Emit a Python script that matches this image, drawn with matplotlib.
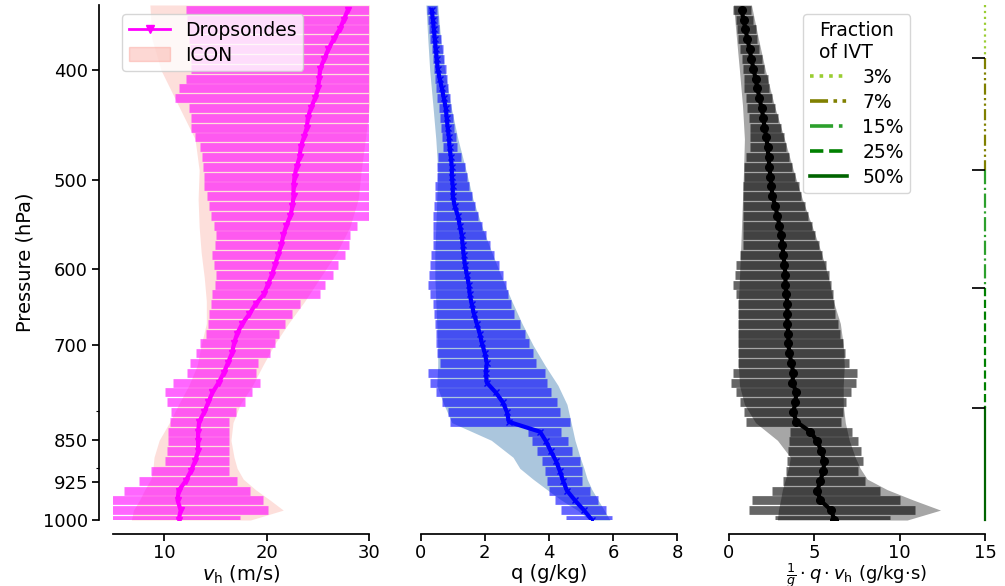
import matplotlib
matplotlib.use('Agg')
import matplotlib.pyplot as plt
from matplotlib.ticker import NullFormatter
from matplotlib.patches import Patch

# -------------------------------------------------------------------------
# Data
# -------------------------------------------------------------------------
# dropsonde levels (hPa), bottom to top
pres = [1000.0, 980.2, 960.8, 941.8, 923.1, 904.8, 886.9, 869.4, 852.1, 835.3,
        818.7, 802.5, 786.6, 771.1, 755.8, 740.8, 726.1, 711.8, 697.7, 683.9,
        670.3, 657.0, 644.0, 631.3, 618.8, 606.5, 594.5, 582.7, 571.2, 559.9,
        548.8, 537.9, 527.3, 516.9, 506.6, 496.6, 486.8, 477.2, 467.7, 458.5,
        449.3, 440.4, 431.7, 423.2, 414.8, 406.6, 398.6, 390.7, 383.0, 375.4,
        367.9, 360.6, 353.5]

# horizontal wind speed (m/s)
vh_mean = [11.4, 11.6, 11.3, 11.4, 12.1, 12.6, 13.0, 13.3, 13.3, 13.3,
           13.4, 13.9, 14.3, 14.7, 15.3, 15.8, 16.2, 16.6, 16.8, 17.1,
           17.6, 18.3, 18.9, 19.7, 20.1, 20.5, 20.8, 21.1, 21.4, 21.6,
           21.9, 22.3, 22.5, 22.6, 22.6, 22.7, 22.9, 23.2, 23.3, 23.6,
           23.9, 24.0, 24.3, 24.7, 25.0, 25.1, 25.2, 25.6, 26.0, 26.5,
           27.1, 27.5, 27.9]
vh_lo = [4.7, 4.7, 4.9, 6.1, 7.5, 8.7, 10.1, 10.3, 10.4, 10.4,
         10.6, 10.7, 10.3, 10.1, 10.9, 12.2, 12.5, 13.1, 13.5, 14.1,
         14.3, 14.4, 14.6, 14.7, 14.9, 15.0, 14.8, 14.7, 14.9, 15.0,
         14.8, 14.6, 14.4, 14.2, 13.9, 13.9, 13.8, 13.7, 13.5, 13.0,
         12.6, 12.6, 12.4, 11.0, 11.4, 12.1, 12.6, 12.6, 12.5, 12.4,
         12.3, 12.2, 12.1]
vh_hi = [17.4, 20.1, 19.6, 18.4, 17.1, 16.3, 16.3, 16.3, 16.3, 16.3,
         16.3, 17.0, 17.9, 18.6, 19.3, 18.9, 19.1, 20.3, 20.8, 21.2,
         21.8, 22.5, 23.2, 25.2, 25.7, 26.4, 26.9, 27.6, 28.0, 28.1,
         28.8, 30.0, 30.4, 30.6, 30.8, 31.0, 31.0, 31.0, 31.0, 31.5,
         31.5, 31.5, 31.5, 32.0, 32.0, 32.0, 32.5, 32.5, 32.5, 33.0,
         33.0, 33.0, 33.0]

# specific humidity (g/kg)
q_mean = [5.34, 5.09, 4.81, 4.56, 4.44, 4.34, 4.22, 4.06, 3.91, 3.72,
          2.75, 2.69, 2.56, 2.34, 2.06, 2.03, 2.06, 2.00, 1.91, 1.84,
          1.75, 1.66, 1.59, 1.53, 1.50, 1.44, 1.38, 1.34, 1.31, 1.28,
          1.22, 1.16, 1.06, 1.00, 1.00, 0.97, 0.97, 0.94, 0.90, 0.88,
          0.84, 0.81, 0.78, 0.72, 0.66, 0.59, 0.53, 0.50, 0.47, 0.44,
          0.41, 0.38, 0.34]
q_lo = [4.53, 4.38, 4.19, 4.00, 3.94, 3.88, 3.78, 3.63, 3.47, 3.34,
        0.90, 0.84, 0.66, 0.47, 0.28, 0.22, 0.59, 0.50, 0.47, 0.47,
        0.44, 0.41, 0.38, 0.28, 0.22, 0.25, 0.28, 0.31, 0.38, 0.38,
        0.38, 0.38, 0.41, 0.44, 0.44, 0.50, 0.50, 0.53, 0.69, 0.66,
        0.62, 0.59, 0.56, 0.50, 0.47, 0.44, 0.41, 0.38, 0.34, 0.28,
        0.25, 0.22, 0.19]
q_hi = [5.97, 5.78, 5.53, 5.28, 5.03, 5.03, 4.97, 4.72, 4.59, 4.38,
        4.66, 4.34, 4.25, 4.06, 3.94, 3.88, 3.59, 3.50, 3.38, 3.25,
        3.09, 2.91, 2.81, 2.72, 2.66, 2.56, 2.44, 2.28, 2.16, 2.03,
        1.91, 1.78, 1.69, 1.59, 1.50, 1.44, 1.38, 1.25, 1.12, 1.09,
        1.03, 1.00, 0.94, 0.90, 0.84, 0.81, 0.78, 0.72, 0.69, 0.62,
        0.56, 0.53, 0.50]

# moisture flux 1/g * q * vh (g/kg s)
f_mean = [6.19, 6.01, 5.37, 5.20, 5.37, 5.55, 5.60, 5.43, 5.20, 4.79,
          3.97, 3.79, 3.91, 3.97, 3.74, 3.79, 3.68, 3.56, 3.50, 3.50,
          3.44, 3.44, 3.44, 3.39, 3.33, 3.33, 3.27, 3.21, 3.15, 3.09,
          2.98, 2.86, 2.74, 2.57, 2.51, 2.45, 2.39, 2.34, 2.28, 2.22,
          2.10, 2.04, 1.93, 1.81, 1.69, 1.58, 1.46, 1.34, 1.23, 1.11,
          0.99, 0.88, 0.76]
f_lo = [2.74, 1.17, 1.40, 2.57, 3.21, 3.39, 3.44, 3.50, 3.56, 3.62,
        1.05, 0.88, 0.70, 0.41, 0.12, 0.29, 0.53, 0.58, 0.58, 0.58,
        0.58, 0.53, 0.53, 0.41, 0.29, 0.35, 0.41, 0.70, 0.82, 0.82,
        0.82, 0.82, 0.82, 0.82, 0.82, 0.88, 0.93, 1.05, 1.28, 1.23,
        1.23, 1.17, 1.11, 1.05, 0.93, 0.88, 0.82, 0.76, 0.70, 0.58,
        0.47, 0.41, 0.29]
f_hi = [9.46, 10.90, 10.04, 8.87, 8.00, 7.59, 7.88, 7.76, 7.59, 7.24,
        6.60, 6.71, 6.89, 7.18, 7.47, 7.53, 7.06, 6.83, 6.71, 6.54,
        6.42, 6.25, 6.19, 6.13, 6.01, 5.90, 5.72, 5.49, 5.31, 5.08,
        4.90, 4.67, 4.50, 4.26, 4.14, 3.91, 3.74, 3.56, 3.39, 3.27,
        3.09, 2.92, 2.74, 2.57, 2.39, 2.28, 2.10, 1.98, 1.81, 1.69,
        1.58, 1.46, 1.34]

# ICON spread (hPa levels, bottom to top)
icon_pres = [1000, 980, 960, 940, 920, 900, 880, 850, 820, 790, 760, 730, 700,
             670, 640, 610, 580, 550, 520, 490, 460, 430, 400, 375, 350]
icon_vh_lo = [6.8, 7.0, 7.6, 8.1, 8.7, 8.9, 9.0, 9.5, 10.5, 11.4, 12.4, 13.2, 13.6,
              14.1, 14.1, 13.9, 13.6, 13.4, 13.3, 13.4, 13.0, 11.4, 9.7, 8.8, 8.6]
icon_vh_hi = [18.4, 21.6, 20.3, 18.9, 17.7, 17.1, 16.8, 16.5, 16.7, 17.4, 18.6, 19.6, 20.7,
              22.1, 23.7, 25.2, 26.8, 28.1, 28.9, 29.2, 29.6, 30.0, 30.2, 30.4, 30.5]
icon_q_lo = [5.28, 4.88, 4.38, 3.94, 3.50, 3.09, 2.88, 2.20, 0.97, 0.72, 0.50, 0.53, 0.53,
             0.50, 0.47, 0.44, 0.44, 0.47, 0.50, 0.53, 0.47, 0.38, 0.28, 0.22, 0.16]
icon_q_hi = [5.90, 5.72, 5.53, 5.34, 5.19, 5.09, 4.97, 4.81, 4.69, 4.56, 4.28, 3.88, 3.50,
             3.16, 2.84, 2.53, 2.22, 1.91, 1.63, 1.41, 1.16, 0.94, 0.75, 0.62, 0.53]
icon_f_lo = [2.86, 2.92, 3.04, 3.15, 3.33, 3.50, 3.62, 2.86, 1.58, 0.93, 0.64, 0.58, 0.58,
             0.58, 0.58, 0.64, 0.70, 0.76, 0.82, 0.88, 0.93, 0.82, 0.64, 0.47, 0.29]
icon_f_hi = [10.45, 12.4, 10.8, 9.28, 8.11, 7.70, 7.41, 7.06, 6.83, 6.71, 6.71, 6.77, 6.71,
             6.54, 6.13, 5.84, 5.43, 4.90, 4.32, 3.79, 3.27, 2.69, 2.16, 1.75, 1.34]

# pressure levels bounding the IVT fractions (top to bottom)
ivt_bounds = [350, 390, 490, 623, 796, 1000]
ivt_labels = ['3%', '7%', '15%', '25%', '50%']

p_ticks = [400, 500, 600, 700, 850, 925, 1000]

# -------------------------------------------------------------------------
# Style
# -------------------------------------------------------------------------
plt.rcParams.update({
    'font.size': 13,
    'axes.labelsize': 14,
    'xtick.labelsize': 13,
    'ytick.labelsize': 13,
    'legend.fontsize': 13.5,
    'axes.linewidth': 1.25,
    'xtick.major.width': 1.25,
    'ytick.major.width': 1.25,
    'xtick.major.size': 5,
    'ytick.major.size': 5,
    'xtick.major.pad': 2.5,
    'ytick.major.pad': 3,
    'ytick.minor.size': 2.5,
    'ytick.minor.width': 0.8,
    'axes.labelpad': 1,
})

fig, axes = plt.subplots(1, 3, figsize=(10.05, 5.86), dpi=100, sharey=True)
fig.subplots_adjust(left=0.1124, right=0.9801, top=0.9915, bottom=0.1126, wspace=0.2)

panels = [
    (vh_mean, vh_lo, vh_hi, icon_vh_lo, icon_vh_hi, 'magenta', 'v', 4.5,
     'salmon', 0.25, (5, 30), [10, 20, 30], r'$v_\mathrm{h}$ (m/s)'),
    (q_mean, q_lo, q_hi, icon_q_lo, icon_q_hi, 'blue', 'x', 4.5,
     'steelblue', 0.45, (0, 8), [0, 2, 4, 6, 8], 'q (g/kg)'),
    (f_mean, f_lo, f_hi, icon_f_lo, icon_f_hi, 'black', 'o', 5.5,
     'grey', 0.7, (0, 15), [0, 5, 10, 15],
     r'$\frac{1}{g}\cdot q\cdot v_\mathrm{h}$ (g/kg·s)'),
]

for ax, (mean, lo, hi, ilo, ihi, col, mk, ms, icol, ialpha, xlim, xticks, xlabel) in zip(axes, panels):
    ax.fill_betweenx(icon_pres, ilo, ihi, color=icol, alpha=ialpha, lw=0, zorder=1)
    ax.hlines(pres, lo, hi, color=col, alpha=0.6, lw=6.3, zorder=2)
    ax.plot(mean, pres, color=col, marker=mk, lw=3, ms=ms, zorder=3)
    ax.set_xlim(*xlim)
    ax.set_xticks(xticks)
    ax.set_xlabel(xlabel)
    ax.spines['top'].set_visible(False)
    ax.spines['right'].set_visible(False)
    ax.spines['bottom'].set_position(('outward', 10))

ax1, ax2, ax3 = axes
# the fraction label is taller than the others
ax3.xaxis.label.set_fontsize(13)
ax3.xaxis.labelpad = -1
ax1.set_yscale('log')
ax1.set_ylim(1000, 350)
ax1.set_yticks(p_ticks)
ax1.set_yticklabels([str(p) for p in p_ticks])
ax1.yaxis.set_minor_formatter(NullFormatter())
ax1.spines['left'].set_position(('outward', 10))
ax1.set_ylabel('Pressure (hPa)', labelpad=6)
for ax in (ax2, ax3):
    ax.spines['left'].set_visible(False)
    ax.tick_params(axis='y', which='both', left=False)

# legend panel 1
h_sonde = plt.Line2D([], [], color='magenta', marker='v', lw=2, ms=6)
h_icon = Patch(facecolor='salmon', edgecolor='salmon', alpha=0.3)
ax1.legend([h_sonde, h_icon], ['Dropsondes', 'ICON'], loc='upper left',
           labelspacing=0.3, borderpad=0.35, handlelength=2.2)

# IVT fraction markers on the right edge of panel 3
ivt_colors = ['yellowgreen', 'olive', 'tab:green', 'green', 'darkgreen']
ivt_styles = [':', (0, (5, 1.5, 1, 1.5, 1, 1.5)), '-.', '--', '-']
handles = []
for i, lab in enumerate(ivt_labels):
    ax3.plot([15, 15], [ivt_bounds[i], ivt_bounds[i + 1]], color=ivt_colors[i],
             ls=ivt_styles[i], lw=1.6, clip_on=False, zorder=4)
    handles.append(plt.Line2D([], [], color=ivt_colors[i], ls=ivt_styles[i], lw=2.6, label=lab))
ax3.hlines(ivt_bounds[1:-1], 14.25, 15, color='black', lw=1.25, clip_on=False, zorder=4)
ax3.legend(handles=handles, title='Fraction\nof IVT', loc='upper center',
           handlelength=2.0, title_fontsize=13.5, labelspacing=0.32, borderpad=0.35)

fig.savefig('out.png', dpi=100)
